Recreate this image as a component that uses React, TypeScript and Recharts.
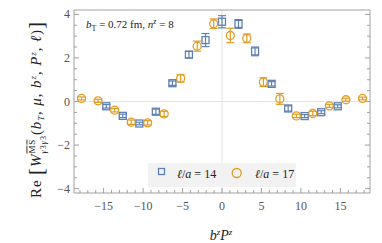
import React from 'react';
import { ComposedChart, Scatter, XAxis, YAxis, ErrorBar, ReferenceLine, Legend } from 'recharts';

// ℓ/a = 14 (blue squares)
const blueX = [-14.66, -12.57, -10.47, -8.38, -6.28, -4.19, -2.09, 0, 2.09, 4.19, 6.28, 8.38, 10.47, 12.57, 14.66];
const blueY = [-0.22, -0.66, -1.01, -0.47, 0.84, 2.15, 2.82, 3.66, 3.56, 2.3, 0.81, -0.32, -0.67, -0.49, -0.22];
const blueErr = [0.08, 0.08, 0.06, 0.12, 0.1, 0.15, 0.3, 0.28, 0.2, 0.2, 0.1, 0.12, 0.07, 0.07, 0.07];

// ℓ/a = 17 (orange circles)
const orangeX = [-17.8, -15.7, -13.6, -11.5, -9.42, -7.33, -5.24, -3.14, -1.05, 1.05, 3.14, 5.24, 7.33, 9.42, 11.5, 13.6, 15.7, 17.8];
const orangeY = [0.14, 0.03, -0.4, -0.95, -0.98, -0.57, 1.06, 2.54, 3.57, 3.03, 2.9, 0.89, 0.12, -0.66, -0.55, -0.2, 0.08, 0.14];
const orangeErr = [0.07, 0.07, 0.08, 0.1, 0.1, 0.12, 0.17, 0.23, 0.22, 0.33, 0.2, 0.2, 0.25, 0.08, 0.1, 0.07, 0.07, 0.06];

const xLabelTicks = [-15, -10, -5, 0, 5, 10, 15];
const xAllTicks = [-18, -17, -16, -15, -14, -13, -12, -11, -10, -9, -8, -7, -6, -5, -4, -3, -2, -1, 0, 1, 2, 3, 4, 5, 6, 7, 8, 9, 10, 11, 12, 13, 14, 15, 16, 17, 18];
const yLabelTicks = [-4, -2, 0, 2, 4];
const yAllTicks = [-4, -3.5, -3, -2.5, -2, -1.5, -1, -0.5, 0, 0.5, 1, 1.5, 2, 2.5, 3, 3.5, 4];

const legendLabels = ['14', '17'];

const blueData = blueX.map((x, i) => ({ x, y: blueY[i], err: blueErr[i] }));
const orangeData = orangeX.map((x, i) => ({ x, y: orangeY[i], err: orangeErr[i] }));

const W = 382;
const H = 243;
const BLUE = '#5E81B5';
const ORANGE = '#E19C24';
const FRAME = '#a0a0a0';
const TICKTXT = '#555';
const FONT = '"Liberation Serif", "DejaVu Serif", serif';
const XDOM: [number, number] = [-18.75, 18.75];
const YDOM: [number, number] = [-4.2, 4.2];

const fmt = (v: number) => (v < 0 ? '\u2212' + Math.abs(v) : String(v));

const BottomTick = (props: any) => {
  const { x, y, payload } = props;
  const v = payload.value;
  const major = xLabelTicks.includes(v);
  return (
    <g>
      <line x1={x} x2={x} y1={y} y2={y - (major ? 5 : 3)} stroke={FRAME} strokeWidth={1} />
      {major && (
        <text x={x} y={y + 17} textAnchor="middle" fontSize={12} fill={TICKTXT} fontFamily={FONT}>
          {fmt(v)}
        </text>
      )}
    </g>
  );
};

const TopTick = (props: any) => {
  const { x, y, payload } = props;
  const major = xLabelTicks.includes(payload.value);
  return <line x1={x} x2={x} y1={y} y2={y + (major ? 5 : 3)} stroke={FRAME} strokeWidth={1} />;
};

const LeftTick = (props: any) => {
  const { x, y, payload } = props;
  const v = payload.value;
  const major = yLabelTicks.includes(v);
  return (
    <g>
      <line x1={x} x2={x + (major ? 5 : 3)} y1={y} y2={y} stroke={FRAME} strokeWidth={1} />
      {major && (
        <text x={x - 4} y={y + 4} textAnchor="end" fontSize={12} fill={TICKTXT} fontFamily={FONT}>
          {fmt(v)}
        </text>
      )}
    </g>
  );
};

const RightTick = (props: any) => {
  const { x, y, payload } = props;
  const major = yLabelTicks.includes(payload.value);
  return <line x1={x} x2={x - (major ? 5 : 3)} y1={y} y2={y} stroke={FRAME} strokeWidth={1} />;
};

const SquareShape = (props: any) => {
  const { cx, cy } = props;
  if (cx == null || cy == null) return null;
  return <rect x={cx - 3.5} y={cy - 3.5} width={7} height={7} fill="none" stroke={BLUE} strokeWidth={1.3} />;
};

const CircleShape = (props: any) => {
  const { cx, cy } = props;
  if (cx == null || cy == null) return null;
  return <circle cx={cx} cy={cy} r={4} fill="none" stroke={ORANGE} strokeWidth={1.3} />;
};

const LegendBox = () => (
  <svg width={148} height={24} style={{ display: 'block' }}>
    <rect x={0} y={0} width={148} height={24} fill="#f2f2f2" />
    <rect x={10.5} y={5.5} width={6} height={6} fill="none" stroke={BLUE} strokeWidth={1.3} />
    <text x={29} y={15} fontSize={12} fontFamily={FONT} fill="#222">
      <tspan fontStyle="italic">ℓ</tspan>/<tspan fontStyle="italic">a</tspan> = {legendLabels[0]}
    </text>
    <circle cx={88.7} cy={10} r={4.5} fill="none" stroke={ORANGE} strokeWidth={1.3} />
    <text x={107} y={15} fontSize={12} fontFamily={FONT} fill="#222">
      <tspan fontStyle="italic">ℓ</tspan>/<tspan fontStyle="italic">a</tspan> = {legendLabels[1]}
    </text>
  </svg>
);

const Overlay = () => (
  <svg width={W} height={H} style={{ position: 'absolute', left: 0, top: 0, pointerEvents: 'none' }}>
    {/* annotation */}
    <text x={86} y={28} fontSize={11} fontFamily={FONT} fill="#222">
      <tspan fontStyle="italic">b</tspan>
      <tspan fontSize={8} dy={2.5}>T</tspan>
      <tspan dy={-2.5}> = 0.72 fm,  </tspan>
      <tspan fontStyle="italic">n</tspan>
      <tspan fontSize={8} fontStyle="italic" dy={-4}>z</tspan>
      <tspan dy={4}> = 8</tspan>
    </text>
    {/* x label */}
    <text x={221} y={240} textAnchor="middle" fontSize={14} fontFamily={FONT} fill="#222">
      <tspan fontStyle="italic">b</tspan>
      <tspan fontSize={9} fontStyle="italic" dy={-5}>z</tspan>
      <tspan fontStyle="italic" dy={5}>P</tspan>
      <tspan fontSize={9} fontStyle="italic" dy={-5}>z</tspan>
      <tspan dy={5}></tspan>
    </text>
    {/* y label */}
    <g transform="translate(41,110) rotate(-90)">
      <text
        x={0}
        y={0}
        textAnchor="middle"
        fontSize={15}
        fontFamily={FONT}
        fill="#222"
        textLength={176}
        lengthAdjust="spacing"
      >
        <tspan>Re </tspan>
        <tspan fontSize={21} dy={1.5}>[</tspan>
        <tspan fontStyle="italic" dy={-1.5}>W</tspan>
        <tspan fontSize={9} dy={-6.5} style={{ textDecoration: 'overline' }}>MS</tspan>
        <tspan fontSize={9} fontStyle="italic" dx={-15} dy={11}>γ</tspan>
        <tspan fontSize={8}>3</tspan>
        <tspan fontSize={9} fontStyle="italic">γ</tspan>
        <tspan fontSize={8}>3</tspan>
        <tspan dy={-4.5}>(</tspan>
        <tspan fontStyle="italic">b</tspan>
        <tspan fontSize={9} fontStyle="italic" dy={3}>T</tspan>
        <tspan dy={-3}>, </tspan>
        <tspan fontStyle="italic">μ</tspan>
        <tspan>, </tspan>
        <tspan fontStyle="italic">b</tspan>
        <tspan fontSize={9} fontStyle="italic" dy={-5.5}>z</tspan>
        <tspan dy={5.5}>, </tspan>
        <tspan fontStyle="italic">P</tspan>
        <tspan fontSize={9} fontStyle="italic" dy={-5.5}>z</tspan>
        <tspan dy={5.5}>, </tspan>
        <tspan fontStyle="italic">ℓ</tspan>
        <tspan>)</tspan>
        <tspan fontSize={21} dy={1.5}>]</tspan>
      </text>
    </g>
  </svg>
);

export default function App() {
  return (
    <div style={{ position: 'absolute', left: 0, top: 0, width: W, height: H, background: '#fff' }}>
      <ComposedChart width={W} height={H} margin={{ top: 0, right: 0, bottom: 0, left: 0 }}>
        <XAxis
          xAxisId={0}
          dataKey="x"
          type="number"
          domain={XDOM}
          allowDataOverflow
          ticks={xAllTicks}
          interval={0}
          height={50}
          tickSize={0}
          tickMargin={0}
          tickLine={false}
          axisLine={{ stroke: FRAME }}
          tick={BottomTick}
        />
        <XAxis
          xAxisId="top"
          orientation="top"
          type="number"
          domain={XDOM}
          allowDataOverflow
          ticks={xAllTicks}
          interval={0}
          height={10}
          tickSize={0}
          tickMargin={0}
          tickLine={false}
          axisLine={{ stroke: FRAME }}
          tick={TopTick}
        />
        <YAxis
          yAxisId={0}
          type="number"
          domain={YDOM}
          allowDataOverflow
          ticks={yAllTicks}
          interval={0}
          width={74}
          tickSize={0}
          tickMargin={0}
          tickLine={false}
          axisLine={{ stroke: FRAME }}
          tick={LeftTick}
        />
        <YAxis
          yAxisId="right"
          orientation="right"
          type="number"
          domain={YDOM}
          allowDataOverflow
          ticks={yAllTicks}
          interval={0}
          width={12}
          tickSize={0}
          tickMargin={0}
          tickLine={false}
          axisLine={{ stroke: FRAME }}
          tick={RightTick}
        />
        <ReferenceLine x={0} xAxisId={0} yAxisId={0} stroke="#e4e4e4" strokeWidth={1} />
        <ReferenceLine y={0} xAxisId={0} yAxisId={0} stroke="#e4e4e4" strokeWidth={1} />
        <Scatter
          name="ℓ/a = 14"
          data={blueData}
          dataKey="y"
          xAxisId={0}
          yAxisId={0}
          shape={SquareShape}
          isAnimationActive={false}
        >
          <ErrorBar dataKey="err" direction="y" width={4} stroke={BLUE} strokeWidth={1.2} isAnimationActive={false} />
        </Scatter>
        <Scatter
          name="ℓ/a = 17"
          data={orangeData}
          dataKey="y"
          xAxisId={0}
          yAxisId={0}
          shape={CircleShape}
          isAnimationActive={false}
        >
          <ErrorBar dataKey="err" direction="y" width={4} stroke={ORANGE} strokeWidth={1.2} isAnimationActive={false} />
        </Scatter>
        <Legend
          layout="horizontal"
          verticalAlign="middle"
          align="center"
          content={() => <LegendBox />}
          wrapperStyle={{ position: 'absolute', left: 148, top: 163, width: 148, height: 24, bottom: 'auto', right: 'auto' }}
        />
      </ComposedChart>
      <Overlay />
    </div>
  );
}
